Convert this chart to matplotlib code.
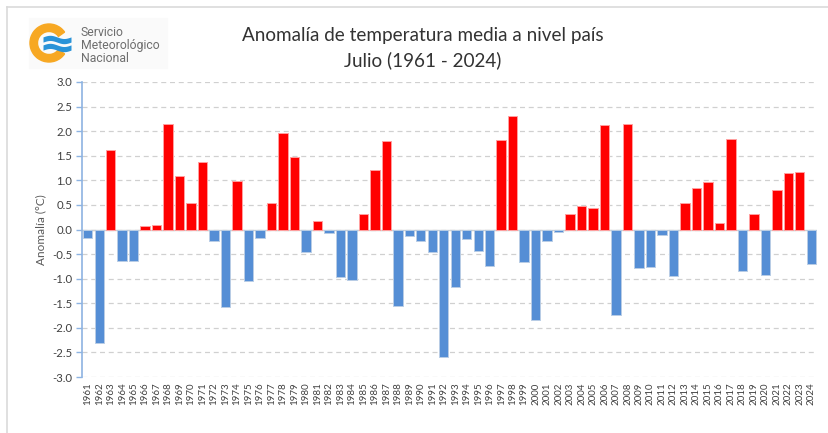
import numpy as np
import matplotlib
matplotlib.use("Agg")
import matplotlib.pyplot as plt
from matplotlib.patches import Wedge, Rectangle
from matplotlib.lines import Line2D

# July mean temperature anomaly (degC), 1961-2024
years = list(range(1961, 2025))
anomaly = [
    -0.17, -2.31, 1.62, -0.64, -0.64, 0.07, 0.10, 2.15, 1.08, 0.54,
    1.37, -0.24, -1.57, 0.99, -1.04, -0.17, 0.54, 1.97, 1.48, -0.46,
    0.18, -0.08, -0.97, -1.02, 0.32, 1.21, 1.79, -1.55, -0.14, -0.24,
    -0.46, -2.60, -1.17, -0.19, -0.44, -0.75, 1.82, 2.31, -0.66, -1.84,
    -0.24, -0.05, 0.32, 0.47, 0.43, 2.13, -1.73, 2.15, -0.79, -0.77,
    -0.12, -0.95, 0.54, 0.85, 0.96, 0.14, 1.84, -0.84, 0.32, -0.93,
    0.81, 1.15, 1.17, -0.71,
]
yticks = np.arange(-3.0, 3.01, 0.5)

W, H = 829, 433
fig = plt.figure(figsize=(W / 100, H / 100), dpi=100)
fig.patch.set_facecolor("white")

# thin frame (top + left) like the screenshot
fig.add_artist(Line2D([7 / W, 1], [1 - 7 / H, 1 - 7 / H], color="#DADADA", lw=1.2))
fig.add_artist(Line2D([7 / W, 7 / W], [0, 1 - 7 / H], color="#DADADA", lw=1.2))

ax = fig.add_axes([82 / W, 1 - 377 / H, (817 - 82) / W, (377 - 82) / H])
x = np.arange(len(years))
vals = np.array(anomaly)
pos = vals >= 0
ax.bar(x[pos], vals[pos], width=0.82, color="#FF0000", edgecolor="#FFA0A0", lw=0.7, zorder=3)
ax.bar(x[~pos], vals[~pos], width=0.82, color="#558ED5", edgecolor="#B9CDE5", lw=0.7, zorder=3)

ax.set_xlim(-0.5, len(years) - 0.5)
ax.set_ylim(-3.0, 3.0)
ax.set_yticks(yticks)
ax.set_yticklabels(["%.1f" % v for v in yticks], fontsize=8.2, color="#404040", family="Lato")
ax.yaxis.grid(True, color="#D0D0D0", lw=0.9, ls=(0, (4, 3)), zorder=0)
ax.axhline(0, color="#D0D0D0", lw=1.0, zorder=2)

ax.set_xticks(x)
ax.set_xticklabels([str(y) for y in years], rotation=90, fontsize=7, color="#404040", family="Lato")
ax.tick_params(axis="x", length=0, pad=4)
ax.tick_params(axis="y", length=4, color="#8DB3E2", width=1, pad=3)

for s in ["top", "right", "bottom"]:
    ax.spines[s].set_visible(False)
ax.spines["left"].set_color("#8DB3E2")
ax.spines["left"].set_linewidth(1.2)

ax.set_ylabel("Anomalía (°C)", fontsize=8.5, color="#595959", family="Lato", labelpad=4)

fig.text(423 / W, 1 - 35 / H, "Anomalía de temperatura media a nivel país",
         ha="center", va="center", fontsize=13.6, color="#333333", family="Lato")
fig.text(423 / W, 1 - 60 / H, "Julio (1961 - 2024)",
         ha="center", va="center", fontsize=13.6, color="#333333", family="Lato")

# logo
fig.add_artist(Rectangle((29 / W, 1 - 68 / H), 138 / W, 50 / H, color="#FAFAFA",
                         transform=fig.transFigure, zorder=0))
lax = fig.add_axes([24 / W, 1 - 68 / H, 50 / W, 50 / H])
lax.set_xlim(0, 50)
lax.set_ylim(0, 50)
lax.set_aspect("equal")
lax.axis("off")
lax.add_patch(Wedge((25, 25), 19, 35, 325, width=7.5, color="#F7A823"))
t = np.linspace(19, 47, 60)
for yc in (28.5, 20.5):
    wave = yc + 1.6 * np.sin((t - 19) / 28 * 2 * np.pi)
    lax.fill_between(t, wave - 2.6, wave + 2.6, color="#2A93D8", lw=0)
for i, line in enumerate(["Servicio", "Meteorológico", "Nacional"]):
    fig.text(81 / W, 1 - (33 + 12.5 * i) / H, line, ha="left", va="center",
             fontsize=8.8, color="#6E6E6E", family="Roboto")

fig.savefig("out.png", dpi=100)
